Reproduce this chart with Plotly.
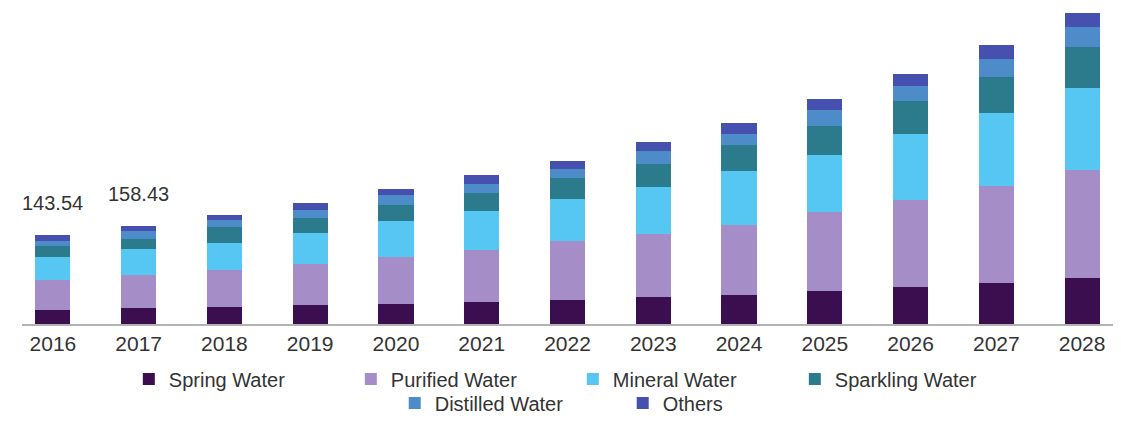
import plotly.graph_objects as go

years = [str(y) for y in range(2016, 2029)]

spring = [22.81, 25.62, 27.1, 31.0, 32.6, 35.2, 39.1, 44.4, 47.6, 54.1, 59.4, 65.9, 74.0]
purified = [48.72, 52.91, 60.4, 66.2, 75.3, 85.1, 94.6, 101.3, 113.1, 126.5, 141.2, 156.7, 175.5]
mineral = [37.05, 43.18, 43.6, 49.4, 57.7, 61.9, 68.5, 75.3, 87.2, 92.7, 105.5, 118.5, 131.9]
sparkling = [17.69, 16.24, 25.2, 24.9, 25.8, 29.1, 33.9, 36.7, 40.4, 46.2, 53.8, 58.6, 65.6]
distilled = [8.12, 12.31, 11.9, 12.9, 16.2, 15.2, 14.5, 21.5, 18.9, 25.4, 23.7, 28.6, 32.3]
others = [9.15, 8.17, 8.6, 10.7, 10.8, 13.4, 13.4, 14.5, 17.1, 17.8, 19.4, 22.6, 23.3]

labelled_years = ["2016", "2017"]

series = [
    ("Spring Water", spring, "#3b0f4f", "legend"),
    ("Purified Water", purified, "#a58dc7", "legend"),
    ("Mineral Water", mineral, "#56c6f2", "legend"),
    ("Sparkling Water", sparkling, "#2b7b8c", "legend"),
    ("Distilled Water", distilled, "#4d8bc9", "legend2"),
    ("Others", others, "#4650ae", "legend2"),
]

FONT = "Liberation Sans, Arial, sans-serif"
TEXT = "#333333"

fig = go.Figure()
for name, vals, color, lg in series:
    fig.add_trace(go.Bar(
        x=years, y=vals, name=name, legend=lg,
        marker=dict(color=color, line=dict(width=0)),
    ))

# total labels above the first bars; category axis position given by index
totals = [sum(v) for v in zip(spring, purified, mineral, sparkling, distilled, others)]
for yr in labelled_years:
    i = years.index(yr)
    fig.add_annotation(
        x=i, y=totals[i], xref="x", yref="y",
        text=f"{totals[i]:.2f}", showarrow=False,
        yshift=32, font=dict(family=FONT, size=20, color=TEXT),
    )

legend_common = dict(
    orientation="h", xref="container", yref="container",
    xanchor="center", yanchor="middle", traceorder="normal",
    font=dict(family=FONT, size=20, color=TEXT),
    entrywidthmode="pixels",
    bgcolor="rgba(0,0,0,0)", itemclick=False,
)

fig.update_layout(
    width=1121, height=422,
    margin=dict(l=22, r=8, t=4, b=98),
    barmode="stack", bargap=0.59,
    paper_bgcolor="white", plot_bgcolor="white",
    showlegend=True,
    legend=dict(x=0.511, y=0.102, entrywidth=177, **legend_common),
    legend2=dict(x=0.5555, y=0.045, entrywidth=183, **legend_common),
    xaxis=dict(
        type="category", range=[-0.36, 12.36],
        showline=True, linecolor="#b3b3b3", linewidth=2,
        ticks="", showgrid=False,
        tickfont=dict(family=FONT, size=21, color=TEXT),
    ),
    yaxis=dict(visible=False, range=[0, 516.8], showgrid=False),
)

fig.write_html("out.html")
